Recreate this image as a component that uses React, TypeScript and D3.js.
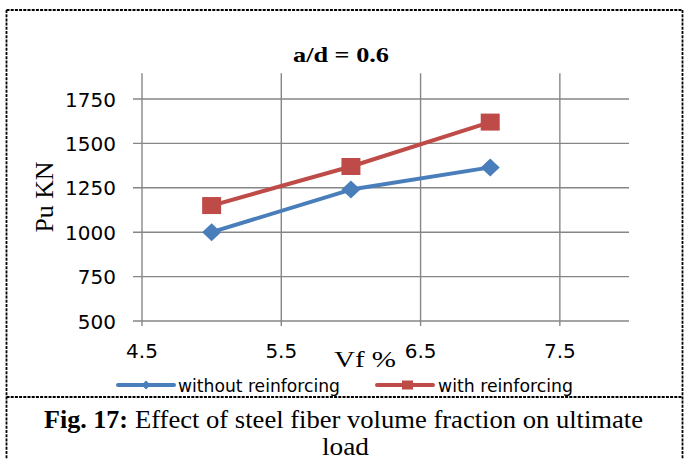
import React from "react";
import * as d3 from "d3";

// Fibre volume fraction (%) and ultimate load (kN)
const vfValues = [5, 6, 7];
const withoutReinforcing = [1000, 1240, 1365];
const withReinforcing = [1150, 1370, 1620];

const xTicks = [4.5, 5.5, 6.5, 7.5];
const yTicks = [500, 750, 1000, 1250, 1500, 1750];

const seriesNames = ["without reinforcing", "with reinforcing"];
const seriesColors = ["#4A7EBB", "#BE4B48"];

const W = 694;
const H = 459;

export default function App() {
  const x = d3.scaleLinear().domain([4.5, 8]).range([142, 629.5]);
  const y = d3.scaleLinear().domain([500, 1750]).range([321, 99]);
  const yTop = y(1895);

  const line = d3
    .line<[number, number]>()
    .x((d) => x(d[0]))
    .y((d) => y(d[1]));

  const blueData = vfValues.map((v, i) => [v, withoutReinforcing[i]] as [number, number]);
  const redData = vfValues.map((v, i) => [v, withReinforcing[i]] as [number, number]);

  const grid = "#868686";
  const dash = "3 1.2";

  const diamond = (cx: number, cy: number, hw: number, hh: number) =>
    `M${cx},${cy - hh}L${cx + hw},${cy}L${cx},${cy + hh}L${cx - hw},${cy}Z`;

  return (
    <svg
      width={W}
      height={H}
      style={{ position: "absolute", left: 0, top: 0, background: "#fff" }}
    >
      <rect x={0} y={0} width={W} height={H} fill="#fff" />

      {/* dashed frame */}
      <g stroke="#000" strokeWidth={1.8} strokeDasharray={dash} fill="none">
        <line x1={6.5} y1={10} x2={682.5} y2={10} />
        <line x1={6.5} y1={10} x2={6.5} y2={H} />
        <line x1={682.5} y1={10} x2={682.5} y2={H} />
        <line x1={6.5} y1={397} x2={682.5} y2={397} />
      </g>

      {/* title */}
      <text
        x={293}
        y={62}
        fontFamily="Liberation Serif"
        fontWeight="bold"
        fontSize={21}
        textLength={96}
        lengthAdjust="spacingAndGlyphs"
        fill="#000"
      >
        a/d = 0.6
      </text>

      {/* gridlines */}
      <g stroke={grid} strokeWidth={1.4}>
        {yTicks.map((t) => (
          <line key={"h" + t} x1={133} x2={629} y1={y(t)} y2={y(t)} />
        ))}
        {xTicks.map((t) => (
          <line key={"v" + t} x1={x(t)} x2={x(t)} y1={yTop} y2={y(500) + 5} />
        ))}
      </g>

      {/* y tick labels */}
      <g fontFamily="DejaVu Sans" fontSize={20} fill="#000" textAnchor="end">
        {yTicks.map((t) => (
          <text key={"yl" + t} x={116} y={y(t) + 7.5}>
            {t}
          </text>
        ))}
      </g>

      {/* x tick labels */}
      <g fontFamily="DejaVu Sans" fontSize={20} fill="#000" textAnchor="middle">
        {xTicks.map((t) => (
          <text key={"xl" + t} x={x(t)} y={358}>
            {t.toFixed(1)}
          </text>
        ))}
      </g>

      {/* axis titles */}
      <text
        transform={`translate(53,${197}) rotate(-90)`}
        textAnchor="middle"
        fontFamily="Liberation Serif"
        fontSize={26}
        textLength={71}
        lengthAdjust="spacingAndGlyphs"
        fill="#000"
      >
        Pu KN
      </text>
      <text
        x={334}
        y={367}
        fontFamily="Liberation Serif"
        fontSize={24}
        textLength={62}
        lengthAdjust="spacingAndGlyphs"
        fill="#000"
      >
        Vf %
      </text>

      {/* series lines */}
      <path d={line(blueData) || ""} fill="none" stroke={seriesColors[0]} strokeWidth={4} strokeLinejoin="round" />
      <path d={line(redData) || ""} fill="none" stroke={seriesColors[1]} strokeWidth={4} strokeLinejoin="round" />

      {/* markers */}
      {blueData.map((d, i) => (
        <path key={"bm" + i} d={diamond(x(d[0]), y(d[1]), 9.5, 9)} fill={seriesColors[0]} />
      ))}
      {redData.map((d, i) => (
        <rect
          key={"rm" + i}
          x={x(d[0]) - 9.5}
          y={y(d[1]) - 8.5}
          width={19}
          height={17}
          fill={seriesColors[1]}
        />
      ))}

      {/* legend */}
      <g>
        <line x1={118} x2={174} y1={385} y2={385} stroke={seriesColors[0]} strokeWidth={4} strokeLinecap="round" />
        <path d={diamond(146, 385, 4.5, 4.5)} fill={seriesColors[0]} />
        <text x={178} y={391.5} fontFamily="DejaVu Sans" fontSize={17} textLength={162} lengthAdjust="spacingAndGlyphs" fill="#000">
          {seriesNames[0]}
        </text>
        <line x1={377} x2={433} y1={385} y2={385} stroke={seriesColors[1]} strokeWidth={4} strokeLinecap="round" />
        <rect x={402} y={380.5} width={11} height={9} fill={seriesColors[1]} />
        <text x={438} y={391.5} fontFamily="DejaVu Sans" fontSize={17} textLength={135} lengthAdjust="spacingAndGlyphs" fill="#000">
          {seriesNames[1]}
        </text>
      </g>

      {/* caption */}
      <text
        x={44}
        y={428}
        fontFamily="Liberation Serif"
        fontWeight="bold"
        fontSize={25}
        textLength={84}
        lengthAdjust="spacingAndGlyphs"
        fill="#000"
      >
        Fig. 17:
      </text>
      <text
        x={135}
        y={428}
        fontFamily="Liberation Serif"
        fontSize={25}
        textLength={508}
        lengthAdjust="spacingAndGlyphs"
        fill="#000"
      >
        Effect of steel fiber volume fraction on ultimate
      </text>
      <text
        x={322}
        y={455}
        fontFamily="Liberation Serif"
        fontSize={25}
        textLength={47}
        lengthAdjust="spacingAndGlyphs"
        fill="#000"
      >
        load
      </text>
    </svg>
  );
}
